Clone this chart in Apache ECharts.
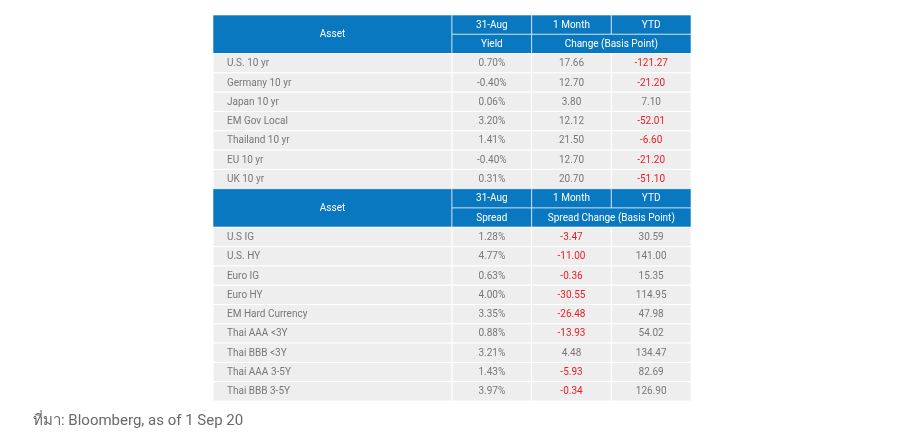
<!DOCTYPE html>
<html>
<head>
<meta charset="utf-8">
<script src="https://cdn.jsdelivr.net/npm/echarts@6/dist/echarts.min.js"></script>
<style>
html,body{margin:0;padding:0;background:#fff;}
#chart{width:904px;height:444px;}
</style>
</head>
<body>
<div id="chart"></div>
<script>
// ---- Data ----
const headerTop1 = ['Asset', '31-Aug', '1 Month', 'YTD'];
const headerSub1 = ['Yield', 'Change (Basis Point)'];
const assets1 = ['U.S. 10 yr', 'Germany 10 yr', 'Japan 10 yr', 'EM Gov Local', 'Thailand 10 yr', 'EU 10 yr', 'UK 10 yr'];
const yield1 = [0.70, -0.40, 0.06, 3.20, 1.41, -0.40, 0.31];
const month1 = [17.66, 12.70, 3.80, 12.12, 21.50, 12.70, 20.70];
const ytd1 = [-121.27, -21.20, 7.10, -52.01, -6.60, -21.20, -51.10];

const headerTop2 = ['Asset', '31-Aug', '1 Month', 'YTD'];
const headerSub2 = ['Spread', 'Spread Change (Basis Point)'];
const assets2 = ['U.S IG', 'U.S. HY', 'Euro IG', 'Euro HY', 'EM Hard Currency', 'Thai AAA <3Y', 'Thai BBB <3Y', 'Thai AAA 3-5Y', 'Thai BBB 3-5Y'];
const spread2 = [1.28, 4.77, 0.63, 4.00, 3.35, 0.88, 3.21, 1.43, 3.97];
const month2 = [-3.47, -11.00, -0.36, -30.55, -26.48, -13.93, 4.48, -5.93, -0.34];
const ytd2 = [30.59, 141.00, 15.35, 114.95, 47.98, 54.02, 134.47, 82.69, 126.90];

const sourceNote = 'ที่มา: Bloomberg, as of 1 Sep 20';

// ---- Table structure (column spans in axis units) ----
const colEdges = [0, 3, 4, 5, 6];
const BLUE = '#0a78c0';
const GRAY = '#eeeeee';
const TXT = '#777777';
const RED = '#ec1c24';
const FONT = 'Roboto, "Liberation Sans", sans-serif';

const cells = [];
function addHeader(row, top, sub) {
  cells.push({x0: colEdges[0], x1: colEdges[1], y0: row, y1: row + 2, text: top[0], kind: 'head', align: 'center'});
  for (let c = 1; c <= 3; c++) {
    cells.push({x0: colEdges[c], x1: colEdges[c + 1], y0: row, y1: row + 1, text: top[c], kind: 'head', align: 'center'});
  }
  cells.push({x0: colEdges[1], x1: colEdges[2], y0: row + 1, y1: row + 2, text: sub[0], kind: 'head', align: 'center'});
  cells.push({x0: colEdges[2], x1: colEdges[4], y0: row + 1, y1: row + 2, text: sub[1], kind: 'head', align: 'center'});
}
function addRows(row, names, pct, m, y) {
  names.forEach((n, i) => {
    const r = row + i;
    cells.push({x0: colEdges[0], x1: colEdges[1], y0: r, y1: r + 1, text: n, kind: 'body', align: 'left'});
    cells.push({x0: colEdges[1], x1: colEdges[2], y0: r, y1: r + 1, text: pct[i].toFixed(2) + '%', kind: 'body', align: 'center'});
    cells.push({x0: colEdges[2], x1: colEdges[3], y0: r, y1: r + 1, text: m[i].toFixed(2), kind: 'body', align: 'center', neg: m[i] < 0});
    cells.push({x0: colEdges[3], x1: colEdges[4], y0: r, y1: r + 1, text: y[i].toFixed(2), kind: 'body', align: 'center', neg: y[i] < 0});
  });
}
let rowCursor = 0;
addHeader(rowCursor, headerTop1, headerSub1); rowCursor += 2;
addRows(rowCursor, assets1, yield1, month1, ytd1); rowCursor += assets1.length;
addHeader(rowCursor, headerTop2, headerSub2); rowCursor += 2;
addRows(rowCursor, assets2, spread2, month2, ytd2); rowCursor += assets2.length;
const totalRows = rowCursor;

const chart = echarts.init(document.getElementById('chart'), null, {renderer: 'canvas'});
chart.setOption({
  backgroundColor: '#ffffff',
  animation: false,
  grid: {left: 213, right: 213, top: 15, bottom: 43},
  xAxis: {type: 'value', min: 0, max: 6, show: false},
  yAxis: {type: 'value', min: 0, max: totalRows, inverse: true, show: false},
  graphic: [{
    type: 'text', left: 33, top: 414,
    style: {text: sourceNote, font: '15px ' + FONT, fill: '#6a6a6a'}
  }],
  series: [{
    type: 'custom',
    coordinateSystem: 'cartesian2d',
    encode: {x: [0, 1], y: [2, 3]},
    data: cells.map(c => [c.x0, c.x1, c.y0, c.y1]),
    renderItem: function (params, api) {
      const c = cells[params.dataIndex];
      const p0 = api.coord([api.value(0), api.value(2)]);
      const p1 = api.coord([api.value(1), api.value(3)]);
      const x = p0[0], y = p0[1], w = p1[0] - p0[0], h = p1[1] - p0[1];
      const head = c.kind === 'head';
      const tx = c.align === 'left' ? x + 14 : x + w / 2;
      return {
        type: 'group',
        children: [{
          type: 'rect',
          shape: {x: x, y: y, width: w, height: h},
          style: {
            fill: head ? BLUE : GRAY,
            stroke: head ? 'rgba(255,255,255,0.6)' : '#ffffff',
            lineWidth: 1
          }
        }, {
          type: 'text',
          x: tx, y: y + h / 2 + 0.5,
          style: {
            text: c.text,
            font: '10px ' + FONT,
            fill: head ? '#ffffff' : (c.neg ? RED : TXT),
            align: c.align,
            verticalAlign: 'middle'
          }
        }]
      };
    }
  }]
});
</script>
</body>
</html>
